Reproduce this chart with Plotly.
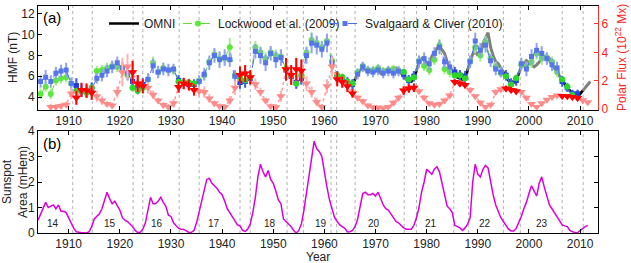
import plotly.graph_objects as go

# ---------------- DATA ----------------
sc_years = list(range(1904, 2010))          # Svalgaard & Cliver (2010), annual means
sc_hmf = [5.5, 5.9, 5.5, 6.3, 6.5, 6.6, 5.3, 5.1, 4.6, 4.5,
          4.8, 5.8, 6.1, 6.5, 6.9, 7.3, 6.8, 6.3, 5.5, 4.9,
          5.2, 5.7, 7.0, 6.4, 6.7, 6.6, 6.7, 5.6, 5.3, 5.2,
          5.2, 5.5, 6.2, 7.3, 8.0, 7.6, 7.8, 7.6, 6.0, 5.4,
          5.5, 5.8, 8.4, 8.0, 7.3, 8.2, 7.6, 7.8, 6.6, 6.0,
          5.4, 5.8, 8.0, 9.2, 9.0, 8.6, 9.2, 7.3, 5.9, 5.7,
          5.4, 5.2, 6.2, 6.9, 6.5, 6.4, 6.6, 6.3, 6.5, 6.3,
          6.5, 6.2, 5.6, 6.0, 7.4, 7.7, 7.2, 8.2, 8.8, 7.4,
          6.9, 6.4, 6.1, 6.0, 7.4, 9.4, 8.5, 9.0, 7.5, 6.7,
          6.4, 6.1, 5.3, 5.6, 7.2, 6.7, 7.9, 8.5, 8.2, 7.7,
          7.1, 6.8, 5.5, 4.9, 4.3, 4.3]
sc_err = [0.6, 0.7, 0.6, 0.6, 0.6, 0.7, 0.6, 0.7, 0.6, 0.6,
          0.6, 0.5, 0.6, 0.6, 0.6, 0.6, 0.6, 0.7, 0.7, 0.6,
          0.6, 0.6, 0.7, 0.6, 0.6, 0.6, 0.5, 0.5, 0.5, 0.5,
          0.5, 0.6, 0.6, 0.7, 0.7, 0.8, 0.8, 0.7, 0.6, 0.6,
          0.6, 0.6, 0.7, 0.8, 0.8, 0.7, 0.8, 0.8, 0.7, 0.6,
          0.6, 0.6, 0.8, 1.0, 0.9, 0.8, 0.9, 0.7, 0.6, 0.5,
          0.5, 0.5, 0.5, 0.5, 0.5, 0.5, 0.5, 0.5, 0.5, 0.5,
          0.5, 0.5, 0.5, 0.5, 0.6, 0.6, 0.6, 0.6, 0.7, 0.6,
          0.6, 0.5, 0.5, 0.5, 0.6, 0.8, 0.7, 0.7, 0.6, 0.6,
          0.5, 0.5, 0.5, 0.5, 0.6, 0.7, 0.7, 0.7, 0.7, 0.6,
          0.6, 0.6, 0.5, 0.4, 0.4, 0.4]

lw_years = list(range(1904, 2009))          # Lockwood et al. (2009), annual means
lw_hmf = [4.3, 5.0, 4.3, 5.6, 5.8, 5.9, 5.3, 4.6, 4.6, 4.4,
          4.9, 6.5, 6.6, 6.8, 7.0, 6.9, 6.8, 6.1, 4.9, 4.6,
          4.9, 5.7, 7.3, 6.4, 6.8, 6.6, 6.6, 5.5, 5.4, 5.4,
          5.3, 5.6, 6.1, 7.4, 8.1, 7.7, 7.7, 8.8, 6.1, 5.8,
          5.6, 5.9, 8.8, 8.3, 7.7, 8.3, 8.0, 7.9, 6.7, 6.1,
          5.3, 6.1, 8.3, 9.5, 9.2, 8.8, 9.4, 7.5, 6.1, 5.9,
          5.5, 5.3, 6.4, 7.0, 6.6, 6.6, 6.8, 6.5, 6.6, 6.7,
          6.5, 6.4, 5.7, 5.9, 7.5, 7.0, 6.6, 7.6, 9.0, 6.7,
          6.4, 6.1, 6.1, 5.8, 7.5, 8.8, 8.0, 9.3, 7.7, 6.9,
          6.3, 6.0, 5.2, 5.8, 7.1, 6.9, 7.4, 8.2, 7.7, 7.8,
          7.4, 6.4, 5.7, 5.0, 4.2]
lw_err = [0.5, 0.5, 0.5, 0.5, 0.5, 0.5, 0.4, 0.4, 0.4, 0.4,
          0.4, 0.5, 0.5, 0.5, 0.5, 0.5, 0.5, 0.5, 0.4, 0.4,
          0.4, 0.5, 0.6, 0.5, 0.5, 0.5, 0.5, 0.4, 0.4, 0.4,
          0.4, 0.4, 0.5, 0.5, 0.6, 0.6, 0.6, 0.9, 0.5, 0.4,
          0.4, 0.4, 0.6, 0.6, 0.6, 0.6, 0.6, 0.6, 0.5, 0.4,
          0.4, 0.5, 0.6, 0.7, 0.7, 0.6, 0.7, 0.5, 0.4, 0.4,
          0.4, 0.4, 0.4, 0.4, 0.4, 0.4, 0.4, 0.4, 0.4, 0.4,
          0.4, 0.4, 0.4, 0.4, 0.5, 0.5, 0.5, 0.5, 0.6, 0.5,
          0.5, 0.4, 0.4, 0.4, 0.5, 0.6, 0.6, 0.6, 0.5, 0.5,
          0.4, 0.4, 0.4, 0.4, 0.5, 0.5, 0.6, 0.6, 0.6, 0.5,
          0.5, 0.5, 0.4, 0.4, 0.3]

polar_years = list(range(1906, 2012))       # polar flux, 1e22 Mx, annual
polar_flux = [0.15, 0.15, 0.22, 0.30, 1.10, 0.80, 1.35, 1.30, 1.15, 0.90,
              0.60, 0.35, 0.25, 1.20, 2.60, 3.00, 2.60, 1.80, 1.60, 1.50,
              1.00, 0.60, 0.28, 0.15, 0.40, 1.55, 1.80, 1.70, 1.35, 1.25,
              1.20, 0.75, 0.40, 0.20, 0.15, 0.60, 1.50, 2.40, 2.50, 2.25,
              1.75, 1.20, 0.60, 0.20, 0.12, 0.90, 2.80, 2.40, 2.80, 2.70,
              1.80, 1.20, 0.50, 0.15, 1.60, 3.00, 2.10, 1.90, 1.60, 1.10,
              0.80, 0.55, 0.25, 0.12, 0.10, 0.05, 0.15, 0.45, 0.80, 1.30,
              1.45, 1.50, 1.25, 0.80, 0.40, 0.30, 0.35, 0.60, 0.95, 1.90,
              1.80, 1.70, 1.35, 0.90, 0.45, 0.15, 0.30, 1.20, 1.40, 1.45,
              1.35, 1.25, 1.20, 0.80, 0.35, 0.15, 0.40, 0.65, 0.85, 0.95,
              0.92, 0.90, 0.85, 0.78, 0.62, 0.48]
polar_err = [0.2, 0.2, 0.2, 0.2, 0.4, 0.5, 0.5, 0.5, 0.5, 0.4,
             0.3, 0.2, 0.2, 0.4, 1.0, 0.9, 0.8, 0.6, 0.5, 0.4,
             0.3, 0.2, 0.2, 0.2, 0.3, 0.4, 0.4, 0.4, 0.4, 0.4,
             0.4, 0.3, 0.2, 0.2, 0.2, 0.3, 0.5, 0.6, 0.6, 0.5,
             0.4, 0.3, 0.2, 0.2, 0.2, 0.4, 0.8, 0.7, 0.8, 0.8,
             0.5, 0.4, 0.3, 0.2, 0.5, 0.7, 0.5, 0.4, 0.4, 0.3,
             0.2, 0.2, 0.15, 0.1, 0.1, 0.1, 0.15, 0.2, 0.2, 0.3,
             0.3, 0.3, 0.2, 0.2, 0.15, 0.15, 0.15, 0.2, 0.2, 0.2,
             0.2, 0.2, 0.2, 0.15, 0.15, 0.1, 0.1, 0.2, 0.2, 0.2,
             0.2, 0.2, 0.15, 0.15, 0.1, 0.1, 0.1, 0.1, 0.1, 0.1,
             0.1, 0.1, 0.1, 0.1, 0.1, 0.1]

# years falling in the declining/minimum phase intervals (shown in red / dark)
min_phase_years = [1911, 1912, 1913, 1914, 1922, 1923, 1924, 1931, 1932, 1933, 1934,
                   1943, 1944, 1945, 1952, 1953, 1954, 1955, 1962, 1963, 1964, 1965,
                   1975, 1976, 1977, 1985, 1986, 1987, 1995, 1996, 1997,
                   2006, 2007, 2008, 2009]
interval_starts = [1910.8, 1922.6, 1931.6, 1943.5, 1952.7, 1962.4, 1975.6, 1985.3, 1995.0, 2006.5]
interval_ends = [1914.6, 1924.5, 1935.5, 1945.5, 1955.9, 1966.0, 1978.0, 1988.2, 1998.3, 2010.6]
extra_boundaries = [1961.3]

omni_start, omni_step = 1963.0, 0.5         # OMNI, half-year samples
omni_hmf = [5.6, 5.6, 5.5, 5.3, 5.2, 5.3, 5.7, 6.3, 6.6, 6.8,
            6.6, 6.5, 6.6, 6.4, 6.5, 6.6, 6.3, 6.4, 6.6, 6.7,
            6.6, 6.5, 6.8, 6.7, 6.3, 6.0, 5.7, 5.6, 5.5, 5.8,
            6.5, 7.3, 7.7, 7.6, 7.2, 7.3, 7.9, 8.3, 8.7, 8.9,
            8.6, 8.2, 7.4, 7.0, 6.5, 6.1, 5.9, 5.8, 5.7, 6.0,
            6.6, 7.5, 8.1, 8.4, 8.0, 8.6, 9.2, 9.7, 10.2, 8.8,
            8.0, 7.4, 7.2, 6.8, 6.4, 6.0, 5.6, 5.5, 5.4, 5.6,
            6.3, 6.9, 7.2, 7.5, 7.3, 7.1, 6.9, 7.1, 7.4, 7.6,
            7.9, 8.0, 7.7, 7.1, 6.8, 6.4, 6.0, 5.6, 5.2, 4.9,
            4.6, 4.4, 4.1, 4.0, 4.3, 4.6, 5.0, 5.3, 5.5]

ssa_start, ssa_step = 1904.0, 0.5           # sunspot area, mHem, half-year samples
sunspot_area = [0.50, 0.75, 1.00, 1.20, 1.00, 1.05, 1.10, 0.95, 1.10, 0.85,
                0.85, 0.80, 0.60, 0.35, 0.18, 0.05, 0.02, 0.01, 0.01, 0.00,
                0.05, 0.25, 0.55, 0.65, 0.75, 0.95, 1.30, 1.60, 1.35, 1.15,
                1.25, 1.10, 0.90, 0.60, 0.50, 0.45, 0.35, 0.25, 0.10, 0.02,
                0.03, 0.15, 0.40, 0.90, 1.40, 1.15, 1.15, 1.25, 1.40, 1.20,
                1.05, 0.70, 0.65, 0.40, 0.27, 0.18, 0.15, 0.14, 0.08, 0.02,
                0.03, 0.10, 0.40, 0.85, 1.30, 1.75, 2.10, 2.15, 1.95, 1.85,
                1.75, 1.60, 1.50, 1.25, 0.95, 0.80, 0.65, 0.45, 0.32, 0.28,
                0.10, 0.06, 0.15, 0.35, 0.80, 1.40, 2.20, 2.70, 2.40, 2.20,
                2.45, 2.10, 1.95, 1.65, 1.30, 1.15, 0.55, 0.45, 0.35, 0.25,
                0.10, 0.00, 0.10, 0.35, 0.90, 1.60, 2.30, 2.90, 3.60, 3.30,
                3.20, 3.00, 2.30, 1.80, 1.30, 0.90, 0.60, 0.45, 0.32, 0.25,
                0.18, 0.04, 0.05, 0.10, 0.25, 0.55, 1.00, 1.55, 1.60, 1.50,
                1.50, 1.55, 1.45, 1.60, 1.35, 1.10, 0.95, 0.90, 0.75, 0.60,
                0.45, 0.40, 0.30, 0.20, 0.15, 0.14, 0.15, 0.30, 0.60, 1.00,
                1.60, 2.00, 2.50, 2.40, 2.30, 2.50, 2.60, 2.40, 1.90, 1.40,
                1.05, 0.95, 0.80, 0.30, 0.25, 0.20, 0.10, 0.20, 0.35, 0.60,
                2.00, 2.70, 2.30, 2.20, 2.50, 2.65, 2.55, 2.00, 1.50, 1.10,
                0.85, 0.60, 0.45, 0.30, 0.15, 0.08, 0.08, 0.18, 0.40, 0.65,
                0.95, 1.20, 1.55, 1.85, 1.65, 1.45, 1.95, 2.20, 1.80, 1.40,
                1.10, 0.95, 0.80, 0.60, 0.45, 0.32, 0.28, 0.25, 0.10, 0.05,
                0.01, 0.02, 0.10, 0.20, 0.25, 0.30]

cycle_numbers = ["14", "15", "16", "17", "18", "19", "20", "21", "22", "23"]
cycle_label_years = [1907.0, 1918.1, 1927.2, 1938.5, 1949.4, 1959.3, 1969.7, 1980.8, 1991.4, 2002.6]
cycle_label_level = 0.36

year_ticks = [1910, 1920, 1930, 1940, 1950, 1960, 1970, 1980, 1990, 2000, 2010]

# ---------------- FIGURE ----------------
FONT = "Liberation Sans, Arial, sans-serif"
W, H = 631, 263
ML, MR, MT, MB = 38, 33, 6, 30
PH = H - MT - MB


def py(pix):  # pixel row -> paper y
    return (H - MB - pix) / PH


def px(pix):  # pixel column -> paper x
    return (pix - ML) / (W - ML - MR)


def mid(ys):
    return [y + 0.5 for y in ys]


def in_min(y):
    return y in min_phase_years


omni_t = [omni_start + omni_step * i for i in range(len(omni_hmf))]
ssa_t = [ssa_start + ssa_step * i for i in range(len(sunspot_area))]

fig = go.Figure()

# OMNI grey line
fig.add_trace(go.Scatter(x=omni_t, y=omni_hmf, mode="lines", xaxis="x", yaxis="y",
                         line=dict(color="#808080", width=3), showlegend=False, hoverinfo="skip"))
# OMNI black in minimum intervals
bx, by = [], []
for s, e in zip(interval_starts, interval_ends):
    seg = [(t, v) for t, v in zip(omni_t, omni_hmf) if s - 0.01 <= t <= e + 0.01]
    if seg:
        bx += [p[0] for p in seg] + [None]
        by += [p[1] for p in seg] + [None]
fig.add_trace(go.Scatter(x=bx, y=by, mode="lines", xaxis="x", yaxis="y", name="OMNI", legend="legend",
                         line=dict(color="black", width=2.5)))

# Lockwood et al. (2009)
fig.add_trace(go.Scatter(x=mid(lw_years), y=lw_hmf, mode="lines+markers", xaxis="x", yaxis="y",
                         name="Lockwood et al. (2009)", legend="legend2",
                         line=dict(color="#5fdc3c", width=1, dash="dash"),
                         marker=dict(symbol="circle", size=6, color="#5be83a"),
                         error_y=dict(type="data", array=lw_err, color="#9ff08a", thickness=2, width=0)))
# Svalgaard & Cliver (2010)
fig.add_trace(go.Scatter(x=mid(sc_years), y=sc_hmf, mode="lines+markers", xaxis="x", yaxis="y",
                         name="Svalgaard & Cliver (2010)", legend="legend3",
                         line=dict(color="#4a6cf0", width=1, dash="dash"),
                         marker=dict(symbol="square", size=5, color="#5574ee"),
                         error_y=dict(type="data", array=sc_err, color="#8ea2f2", thickness=2, width=0)))
# darker markers during minimum phases
idx = [i for i, y in enumerate(sc_years) if in_min(y)]
fig.add_trace(go.Scatter(x=[sc_years[i] + 0.5 for i in idx], y=[sc_hmf[i] for i in idx], mode="markers",
                         xaxis="x", yaxis="y", showlegend=False,
                         marker=dict(symbol="square", size=5, color="#1f3fe0"),
                         error_y=dict(type="data", array=[sc_err[i] for i in idx], color="#4060e8",
                                      thickness=2, width=0)))
idx = [i for i, y in enumerate(lw_years) if in_min(y)]
fig.add_trace(go.Scatter(x=[lw_years[i] + 0.5 for i in idx], y=[lw_hmf[i] for i in idx], mode="markers",
                         xaxis="x", yaxis="y", showlegend=False,
                         marker=dict(symbol="circle", size=6, color="#2ad82a")))

# Polar flux (right axis)
fig.add_trace(go.Scatter(x=mid(polar_years), y=polar_flux, mode="lines+markers", xaxis="x", yaxis="y2",
                         showlegend=False,
                         line=dict(color="#ff9a9a", width=1.5, dash="dot"),
                         marker=dict(symbol="triangle-down", size=8, color="#ff8a8a"),
                         error_y=dict(type="data", array=polar_err, color="#ffb0b0", thickness=2, width=0)))
idx = [i for i, y in enumerate(polar_years) if in_min(y)]
fig.add_trace(go.Scatter(x=[polar_years[i] + 0.5 for i in idx], y=[polar_flux[i] for i in idx], mode="markers",
                         xaxis="x", yaxis="y2", showlegend=False,
                         marker=dict(symbol="triangle-down", size=8, color="#ff0000"),
                         error_y=dict(type="data", array=[polar_err[i] for i in idx], color="#ff0000",
                                      thickness=2, width=0)))

# Sunspot area
fig.add_trace(go.Scatter(x=ssa_t, y=sunspot_area, mode="lines", xaxis="x2", yaxis="y3",
                         line=dict(color="#dd00dd", width=1.5), showlegend=False))

annotations = []
for txt, yr in zip(cycle_numbers, cycle_label_years):
    annotations.append(dict(x=yr, y=cycle_label_level, xref="x2", yref="y3", text=txt, showarrow=False,
                            font=dict(family=FONT, size=10, color="#222")))

# dotted boundary lines
shapes = []
for xv in interval_starts + interval_ends + extra_boundaries:
    for xr, yr_ in (("x", "y domain"), ("x2", "y3 domain")):
        shapes.append(dict(type="line", xref=xr, yref=yr_, x0=xv, x1=xv, y0=0, y1=1, layer="below",
                           line=dict(color="#b0b0b0", width=1, dash="dot")))

axis_common = dict(showline=True, linecolor="black", linewidth=1, ticks="inside", ticklen=4,
                   tickcolor="black", showgrid=False, zeroline=False, automargin=False,
                   tickfont=dict(family=FONT, size=12, color="#222"))

top_dom = [py(110), 1.0]
bot_dom = [0.0, py(131)]

annotations += [
    dict(x=px(52), y=py(18), xref="paper", yref="paper", text="(a)", showarrow=False,
         xanchor="center", yanchor="middle", font=dict(family=FONT, size=15, color="black")),
    dict(x=px(52), y=py(143), xref="paper", yref="paper", text="(b)", showarrow=False,
         xanchor="center", yanchor="middle", font=dict(family=FONT, size=15, color="black")),
    dict(x=px(13), y=py(58), xref="paper", yref="paper", text="HMF (nT)", showarrow=False, textangle=-90,
         xanchor="center", yanchor="middle", font=dict(family=FONT, size=12, color="#222")),
    dict(x=px(621), y=py(58), xref="paper", yref="paper", text="Polar Flux (10<sup>22</sup> Mx)",
         showarrow=False, textangle=-90, xanchor="center", yanchor="middle",
         font=dict(family=FONT, size=12, color="#ff2020")),
    dict(x=px(15), y=py(182), xref="paper", yref="paper", text="Sunspot<br>Area (mHem)", showarrow=False,
         textangle=-90, xanchor="center", yanchor="middle", font=dict(family=FONT, size=12, color="#222")),
    dict(x=px(318), y=py(256.5), xref="paper", yref="paper", text="Year", showarrow=False,
         xanchor="center", yanchor="middle", font=dict(family=FONT, size=12, color="#222")),
]

legend_common = dict(orientation="h", y=py(9), xanchor="left", yanchor="top",
                     bgcolor="rgba(255,255,255,0)", borderwidth=0,
                     font=dict(family=FONT, size=12, color="#222"), itemwidth=30)

fig.update_layout(
    width=W, height=H,
    margin=dict(l=ML, r=MR, t=MT, b=MB),
    paper_bgcolor="white", plot_bgcolor="white",
    font=dict(family=FONT, size=12, color="#222"),
    shapes=shapes,
    annotations=annotations,
    xaxis=dict(domain=[0, 1], anchor="y", range=[1904.0, 2013.5], tickvals=year_ticks,
               mirror="ticks", **axis_common),
    yaxis=dict(domain=top_dom, anchor="x", range=[2.75, 12.77], tickvals=[4, 6, 8, 10, 12],
               **axis_common),
    yaxis2=dict(overlaying="y", side="right", anchor="x", range=[-0.07, 7.27], tickvals=[0, 2, 4, 6],
                showline=True, linecolor="#ff3030", linewidth=1, ticks="inside", ticklen=4,
                tickcolor="#ff3030", showgrid=False, zeroline=False, automargin=False,
                tickfont=dict(family=FONT, size=12, color="#ff2020")),
    xaxis2=dict(domain=[0, 1], anchor="y3", range=[1904.0, 2013.5], tickvals=year_ticks,
                mirror="ticks", **axis_common),
    yaxis3=dict(domain=bot_dom, anchor="x2", range=[0, 4], tickvals=[0, 1, 2, 3, 4],
                mirror="ticks", **axis_common),
    legend=dict(x=px(104), **legend_common),
    legend2=dict(x=px(178), **legend_common),
    legend3=dict(x=px(325), **legend_common),
)

fig.write_html("out.html",
               config={"displayModeBar": False},
               post_script="document.body.style.margin='0px';document.body.style.padding='0px';"
                           "document.documentElement.style.overflow='hidden';")
